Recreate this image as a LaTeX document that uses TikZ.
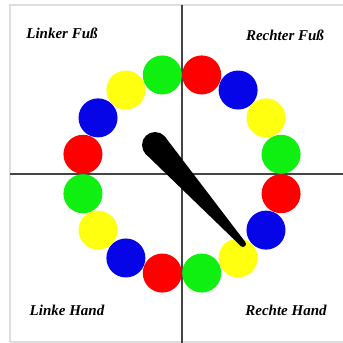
\documentclass[tikz,border=0pt]{standalone}
\usepackage{fontspec}
\setmainfont{Liberation Serif}
\usetikzlibrary{calc}
\definecolor{cred}{HTML}{FF0000}
\definecolor{cblue}{HTML}{0505E8}
\definecolor{cgreen}{HTML}{10F010}
\definecolor{cyellow}{HTML}{FFFF10}
\definecolor{frame}{HTML}{DDDDDD}
\definecolor{axis}{HTML}{444444}
\tikzset{
  dot/.style={circle,minimum size=39pt,inner sep=0pt,fill=#1},
  lbl/.style={font=\fontsize{15}{15}\selectfont\bfseries\itshape},
  axisline/.style={draw=axis,line width=1.3pt},
  frameline/.style={draw=frame,line width=1.5pt}
}
\begin{document}
\begin{tikzpicture}[x=1pt,y=-1pt]
\useasboundingbox (0,0) rectangle (343,343);
\fill[white] (0,0) rectangle (343,343);
% frame
\draw[frameline] (10,342) -- (10,5) -- (343,5);
\draw[frameline] (10,342) -- (343,342);
% axes
\coordinate (ctr) at (182,174);
\coordinate (top) at (182,5);
\coordinate (bot) at (182,343);
\coordinate (lft) at (10,174);
\coordinate (rgt) at (343,174);
\draw[axisline] (top) -- (bot);
\draw[axisline] (lft) -- (rgt);
% ring of dots
\foreach \i/\c in {0/cgreen,1/cred,2/cblue,3/cyellow,4/cgreen,5/cred,6/cblue,7/cyellow,8/cgreen,9/cred,10/cblue,11/cyellow,12/cgreen,13/cred,14/cblue,15/cyellow}{
  \node[dot=\c] (d\i) at ($(ctr)+({101*sin(-11.25+22.5*\i)},{-101*cos(-11.25+22.5*\i)})$) {};
}
% pointer
\coordinate (pa) at (155,145);
\coordinate (pb) at (243,244);
\fill (pa) circle (13);
\fill (pb) circle (3);
\fill ($(pa)!13pt!90:(pb)$) -- ($(pb)!3pt!-90:(pa)$) -- ($(pb)!3pt!90:(pa)$) -- ($(pa)!13pt!-90:(pb)$) -- cycle;
% labels
\node[lbl] (lf) at (62,33) {Linker Fuß};
\node[lbl] (rf) at (285,35) {Rechter Fuß};
\node[lbl] (lh) at (67,310) {Linke Hand};
\node[lbl] (rh) at (286,310) {Rechte Hand};
\end{tikzpicture}
\end{document}
